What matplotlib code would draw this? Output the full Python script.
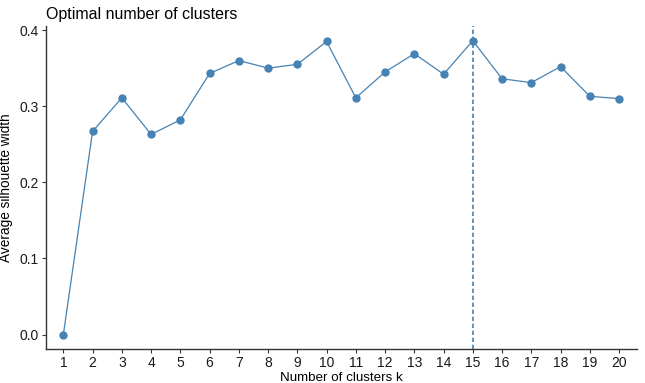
import matplotlib
matplotlib.use("Agg")
import matplotlib.pyplot as plt

plt.rcParams['font.family'] = ['Liberation Sans', 'DejaVu Sans']

k = list(range(1, 21))
silhouette = [0.0, 0.267, 0.311, 0.263, 0.282, 0.343, 0.360, 0.350, 0.355, 0.385,
              0.311, 0.345, 0.369, 0.342, 0.386, 0.336, 0.331, 0.352, 0.313, 0.310]
best_k = 15

color = '#4682B4'

fig = plt.figure(figsize=(6.45, 3.83), dpi=100)
ax = fig.add_axes([0.071, 0.088, 0.916, 0.844])

ax.plot(k, silhouette, color=color, lw=0.9, marker='o', markersize=5, zorder=3)
ax.axvline(best_k, color=color, lw=1.2, ls=(0, (2.6, 1.6)), zorder=2)

ax.set_xlim(0.4, 20.6)
ax.set_ylim(-0.0193, 0.4053)
ax.set_xticks(k)
ax.set_yticks([0.0, 0.1, 0.2, 0.3, 0.4])
ax.set_yticklabels(['0.0', '0.1', '0.2', '0.3', '0.4'])

for s in ['top', 'right']:
    ax.spines[s].set_visible(False)
for s in ['left', 'bottom']:
    ax.spines[s].set_color('#333333')
    ax.spines[s].set_linewidth(1.0)
ax.tick_params(axis='both', colors='#333333', length=3, width=0.8,
               labelsize=10, labelcolor='#1a1a1a', pad=2)

ax.set_xlabel('Number of clusters k', fontsize=9.6, labelpad=1)
ax.set_ylabel('Average silhouette width', fontsize=9.8, labelpad=5)
ax.set_title('Optimal number of clusters', fontsize=11.5, loc='left', x=0.0, pad=5)

fig.savefig('out.png', dpi=100)
